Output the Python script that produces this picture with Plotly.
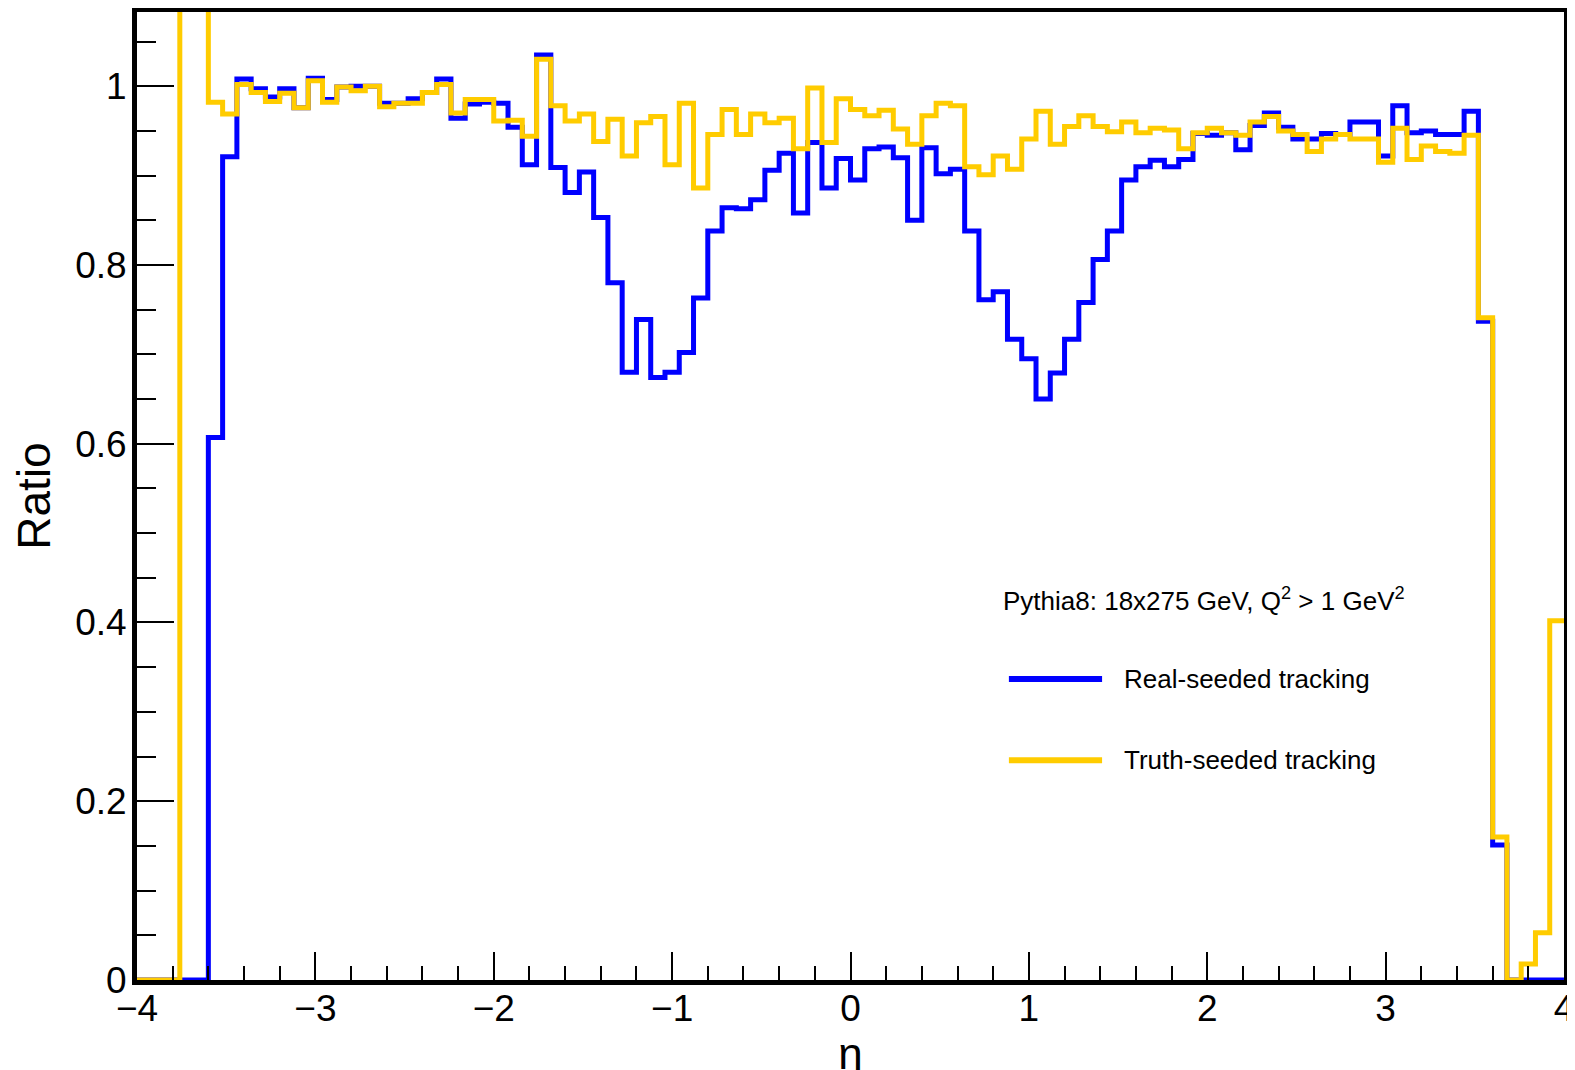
import plotly.graph_objects as go

# Histogram binning: 100 bins of width 0.08 from -4 to 4
eta_min = -4.0
bin_width = 0.08
n_bins = 100

# Ratio values per eta bin
real_seeded = [
    0.0, 0.0, 0.0, 0.0, 0.0, 0.607, 0.921, 1.008, 0.997, 0.988,
    0.997, 0.976, 1.009, 0.985, 0.999, 1.000, 1.000, 0.981, 0.981, 0.986,
    0.993, 1.008, 0.964, 0.980, 0.982, 0.981, 0.954, 0.912, 1.035, 0.909,
    0.881, 0.904, 0.853, 0.780, 0.680, 0.739, 0.674, 0.680, 0.702, 0.763,
    0.838, 0.864, 0.863, 0.873, 0.906, 0.925, 0.858, 0.937, 0.886, 0.919,
    0.895, 0.930, 0.932, 0.920, 0.850, 0.931, 0.902, 0.907, 0.838, 0.761,
    0.770, 0.717, 0.695, 0.650, 0.679, 0.717, 0.758, 0.806, 0.838, 0.895,
    0.910, 0.917, 0.910, 0.918, 0.947, 0.945, 0.948, 0.929, 0.956, 0.970,
    0.954, 0.941, 0.941, 0.947, 0.946, 0.960, 0.960, 0.922, 0.978, 0.948,
    0.950, 0.946, 0.946, 0.972, 0.737, 0.151, 0.0, 0.0, 0.0, 0.0,
]

truth_seeded = [
    0.0, 0.0, 0.0, 1.5, 1.5, 0.982, 0.969, 1.002, 0.993, 0.983,
    0.992, 0.976, 1.006, 0.982, 0.999, 0.995, 1.000, 0.977, 0.981, 0.981,
    0.993, 1.002, 0.970, 0.985, 0.985, 0.961, 0.962, 0.944, 1.030, 0.978,
    0.961, 0.969, 0.938, 0.963, 0.922, 0.959, 0.966, 0.912, 0.981, 0.886,
    0.946, 0.974, 0.946, 0.969, 0.959, 0.964, 0.930, 0.998, 0.937, 0.986,
    0.974, 0.967, 0.973, 0.952, 0.935, 0.967, 0.981, 0.978, 0.910, 0.901,
    0.922, 0.907, 0.941, 0.972, 0.935, 0.955, 0.967, 0.955, 0.949, 0.960,
    0.948, 0.953, 0.951, 0.930, 0.948, 0.953, 0.948, 0.945, 0.960, 0.966,
    0.950, 0.946, 0.927, 0.941, 0.946, 0.941, 0.941, 0.915, 0.953, 0.918,
    0.933, 0.927, 0.925, 0.945, 0.741, 0.160, 0.0, 0.018, 0.053, 0.402,
]

series_names = ["Real-seeded tracking", "Truth-seeded tracking"]
series_colors = ["#0000ff", "#ffcc00"]
header_text = "Pythia8: 18x275 GeV, Q<sup>2</sup> > 1 GeV<sup>2</sup>"
x_tick_vals = [-4, -3, -2, -1, 0, 1, 2, 3, 4]
y_tick_vals = [0, 0.2, 0.4, 0.6, 0.8, 1.0]
y_tick_text = ["0", "0.2", "0.4", "0.6", "0.8", "1"]

edges = [eta_min + bin_width * i for i in range(n_bins + 1)]

FONT = "Liberation Sans, Arial, Helvetica, sans-serif"

fig = go.Figure()
for name, vals, col in zip(series_names, [real_seeded, truth_seeded], series_colors):
    fig.add_trace(go.Scatter(
        x=edges, y=list(vals) + [vals[-1]],
        mode="lines", line=dict(color=col, width=5, shape="hv"),
        name=name, showlegend=False, hoverinfo="skip",
    ))

# Legend drawn manually (ROOT style, long line samples)
fig.add_annotation(xref="paper", yref="paper", x=0.6055, y=0.393,
                   text=header_text, showarrow=False, xanchor="left",
                   yanchor="middle", font=dict(family=FONT, size=26, color="black"))
leg_y = [0.311, 0.227]
for (name, col), yy in zip(zip(series_names, series_colors), leg_y):
    fig.add_shape(type="line", xref="paper", yref="paper",
                  x0=0.6110, x1=0.6763, y0=yy, y1=yy,
                  line=dict(color=col, width=6))
    fig.add_annotation(xref="paper", yref="paper", x=0.6905, y=yy,
                       text=name, showarrow=False, xanchor="left",
                       yanchor="middle", font=dict(family=FONT, size=26, color="black"))

fig.update_layout(
    width=1575, height=1070,
    margin=dict(l=129, r=19, t=4, b=98),
    paper_bgcolor="white", plot_bgcolor="white",
    font=dict(family=FONT, color="black"),
    showlegend=False,
)
fig.update_xaxes(
    range=[-4, 4], tickvals=x_tick_vals, ticks="inside", ticklen=28, tickwidth=2,
    tickcolor="black", showgrid=False, zeroline=False, automargin=False,
    showline=True, linecolor="black", linewidth=5, mirror=True,
    tickfont=dict(family=FONT, size=37), ticklabelstandoff=-8,
    minor=dict(ticks="inside", ticklen=14, tickwidth=2, tickcolor="black",
               dtick=0.2, tick0=0, showgrid=False),
    title=dict(text="η", font=dict(family=FONT, size=44), standoff=8),
)
fig.update_yaxes(
    range=[0, 1.083], tickvals=y_tick_vals, ticktext=y_tick_text,
    ticks="inside", ticklen=37, tickwidth=2, tickcolor="black",
    showgrid=False, zeroline=False, automargin=False,
    showline=True, linecolor="black", linewidth=5, mirror=True,
    tickfont=dict(family=FONT, size=37), ticklabelstandoff=-2,
    minor=dict(ticks="inside", ticklen=19, tickwidth=2, tickcolor="black",
               dtick=0.05, tick0=0, showgrid=False),
    title=dict(text="Ratio", font=dict(family=FONT, size=46), standoff=14),
)

fig.write_html("out.html")
